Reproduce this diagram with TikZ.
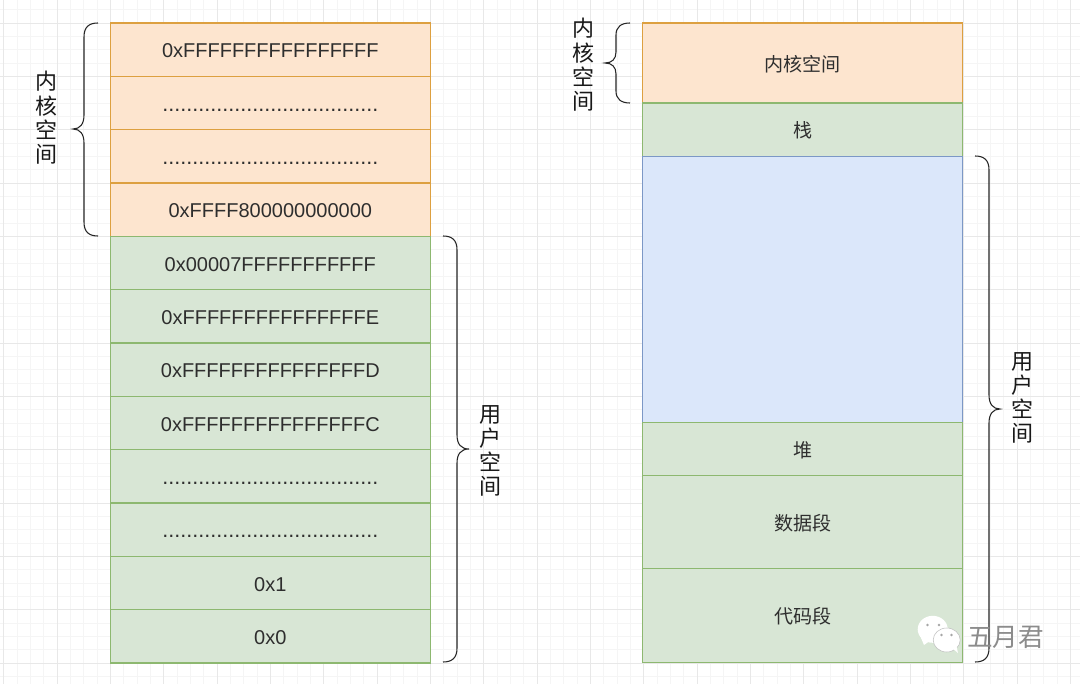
\documentclass[tikz,border=0pt]{standalone}
\usepackage{fontspec}
\setmainfont{Liberation Sans}
\newfontfamily\cjk{Noto Sans CJK SC}
\begin{document}
\begin{tikzpicture}[x=0.75pt,y=-0.75pt,
        cell/.style={rectangle,draw,minimum width=240pt,minimum height=40pt,outer sep=0pt,inner sep=0pt,line width=0.85pt,text=black!82,text height=12.2pt,text depth=0pt,font=\fontsize{15}{18}\selectfont},
        cellOrange/.style={cell,fill=orange1,draw=orange2},
        cellGreen/.style={cell,fill=green1,draw=green2},
        cellBlue/.style={cell,fill=blue1,draw=blue2},
        cellCjk/.style={font=\fontsize{14.3}{17}\cjk},
        cellDots/.style={font=\fontsize{16.2}{18}\selectfont},
        sideLabel/.style={align=center,inner sep=0pt,text=black!90,font=\fontsize{16.5}{18.2}\cjk},
        bracket/.style={draw=black!85,line width=0.8pt}]

        \definecolor{orange1}{HTML}{FDE5CF}
        \definecolor{orange2}{HTML}{DDA040}
        \definecolor{green1}{HTML}{D8E6D5}
        \definecolor{green2}{HTML}{8DB870}
        \definecolor{blue1}{HTML}{DBE7FA}
        \definecolor{blue2}{HTML}{7C98C6}

        \useasboundingbox[fill=white] (0,0) rectangle (1080,684);

        % grid
        \foreach \i in {0,...,81} \draw[black!4,line width=0.5pt] ({3.67+13.333*\i},0) -- ({3.67+13.333*\i},684);
        \foreach \i in {0,...,51} \draw[black!4,line width=0.5pt] (0,{9.67+13.333*\i}) -- (1080,{9.67+13.333*\i});
        \foreach \i in {0,...,20} \draw[black!9,line width=0.5pt] ({3.67+53.333*\i},0) -- ({3.67+53.333*\i},684);
        \foreach \i in {0,...,12} \draw[black!9,line width=0.5pt] (0,{23+53.333*\i}) -- (1080,{23+53.333*\i});

        % left column
        \node[cellOrange] (A) at (270.3,49.7) {0xFFFFFFFFFFFFFFFF};
        \node[cellOrange,cellDots] (B) at (270.3,103) {....................................};
        \node[cellOrange,cellDots] (C) at (270.3,156.3) {....................................};
        \node[cellOrange] (D) at (270.3,209.7) {0xFFFF800000000000};
        \node[cellGreen] (E) at (270.3,263) {0x00007FFFFFFFFFFF};
        \node[cellGreen] (F) at (270.3,316.3) {0xFFFFFFFFFFFFFFFE};
        \node[cellGreen] (G) at (270.3,369.7) {0xFFFFFFFFFFFFFFFD};
        \node[cellGreen] (H) at (270.3,423) {0xFFFFFFFFFFFFFFFC};
        \node[cellGreen,cellDots] (I) at (270.3,476.3) {....................................};
        \node[cellGreen,cellDots] (J) at (270.3,529.7) {....................................};
        \node[cellGreen] (K) at (270.3,583) {0x1};
        \node[cellGreen] (L) at (270.3,636.3) {0x0};

        % right column
        \node[cellOrange,cellCjk,minimum height=60pt] (kernel) at (802.7,63) {内核空间};
        \node[cellGreen,cellCjk] (stack) at (802.7,129.7) {栈};
        \node[cellBlue,minimum height=200pt] (free) at (802.7,289.5) {};
        \node[cellGreen,cellCjk] (heap) at (802.7,449.5) {堆};
        \node[cellGreen,cellCjk,minimum height=70pt] (data) at (802.7,522.5) {数据段};
        \node[cellGreen,cellCjk,minimum height=70pt] (code) at (802.7,615.5) {代码段};

        % braces
        \draw[bracket] (98,23) .. controls (89,23) and (84,27) .. (84,37) -- (84,115) .. controls (84,124) and (80,129) .. (73,129) .. controls (80,129) and (84,134) .. (84,143) -- (84,222) .. controls (84,232) and (89,236) .. (98,236);
        \draw[bracket] (443,236) .. controls (452,236) and (457,240) .. (457,250) -- (457,435) .. controls (457,444) and (461,449) .. (469,449) .. controls (461,449) and (457,454) .. (457,463) -- (457,648) .. controls (457,658) and (452,662) .. (443,662);
        \draw[bracket] (630,23) .. controls (621,23) and (616,27) .. (616,35) -- (616,52) .. controls (616,59) and (612,63) .. (605,63) .. controls (612,63) and (616,67) .. (616,74) -- (616,91) .. controls (616,99) and (621,103) .. (630,103);
        \draw[bracket] (975,156) .. controls (984,156) and (989,160) .. (989,170) -- (989,395) .. controls (989,404) and (993,409) .. (1000,409) .. controls (993,409) and (989,414) .. (989,423) -- (989,648) .. controls (989,658) and (984,662) .. (975,662);

        % labels
        \node[sideLabel] (kernelLeft) at (46.5,118) {内\\核\\空\\间};
        \node[sideLabel] (userLeft) at (490.5,451) {用\\户\\空\\间};
        \node[sideLabel] (kernelRight) at (583.5,65) {内\\核\\空\\间};
        \node[sideLabel] (userRight) at (1022,398) {用\\户\\空\\间};

        % watermark
        \fill[white] (932.7,629.3) ellipse (15 and 13.5);
        \fill[white] (921,638) -- (924,645) -- (931,640) -- cycle;
        \draw[fill=white,draw=black!25,line width=0.4pt] (946.7,640) ellipse (13.5 and 12);
        \fill[white] (952,648) -- (958,653) -- (956,644) -- cycle;
        \foreach \px/\py in {927.5/625,939/625,941.5/635,951.5/635} \fill[black!35] (\px,\py) circle (1.4);
        \node[inner sep=0pt,text=black!45,font=\fontsize{19.2}{20}\cjk] (mark) at (1005.5,637) {五月君};
\end{tikzpicture}
\end{document}
